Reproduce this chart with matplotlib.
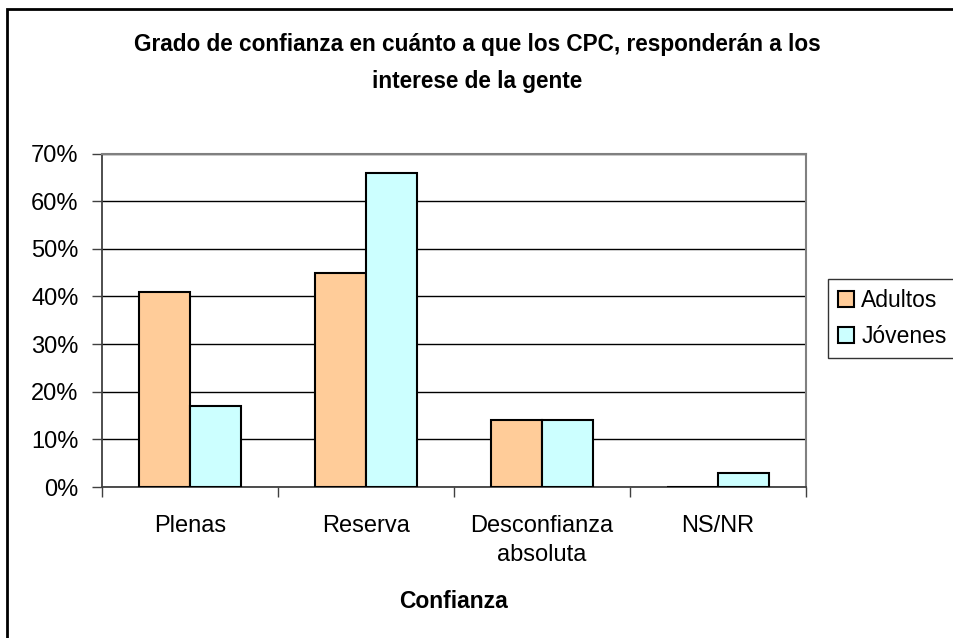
import numpy as np
import matplotlib.pyplot as plt
from matplotlib.patches import Rectangle

# datos
categorias = ["Plenas", "Reserva", "Desconfianza\nabsoluta", "NS/NR"]
adultos = [41, 45, 14, 0]
jovenes = [17, 66, 14, 3]
series = ["Adultos", "Jóvenes"]
yticks = [0, 10, 20, 30, 40, 50, 60, 70]

plt.rcParams["font.family"] = ["Liberation Sans", "DejaVu Sans"]

fig = plt.figure(figsize=(9.54, 6.38), dpi=100)
W, H = 954, 638
ax = fig.add_axes([102 / W, 1 - 487 / H, (806 - 102) / W, (487 - 153.5) / H])

x = np.arange(len(categorias))
w = 0.287
ax.bar(x - w / 2, adultos, w, color="#FFCC99", edgecolor="black", linewidth=1.5, label=series[0], zorder=3)
ax.bar(x + w / 2, jovenes, w, color="#CCFFFF", edgecolor="black", linewidth=1.5, label=series[1], zorder=3)

ax.set_xlim(-0.5, len(categorias) - 0.5)
ax.set_ylim(0, 70)
ax.set_yticks(yticks)
ax.set_yticklabels([f"{v}%" for v in yticks])
ax.yaxis.grid(True, color="black", linewidth=1)
ax.set_axisbelow(True)

# marcas en los limites de categorias
ax.set_xticks(np.arange(len(categorias) + 1) - 0.5)
ax.set_xticklabels([])
ax.set_xticks(x, minor=True)
ax.set_xticklabels(categorias, minor=True, fontsize=17, linespacing=1.45)
ax.tick_params(axis="x", which="minor", length=0, pad=20)
ax.tick_params(axis="x", which="major", length=7, width=1, color="#404040")
ax.tick_params(axis="y", length=7, width=1, labelsize=17, pad=10, color="#404040")

for s in ["left", "bottom"]:
    ax.spines[s].set_color("#404040")
    ax.spines[s].set_linewidth(1.3)
for s in ["top", "right"]:
    ax.spines[s].set_color("#808080")
    ax.spines[s].set_linewidth(1.5)

ax.set_xlabel("Confianza", fontsize=16.5, fontweight="bold", labelpad=17)

fig.text(0.5, 1 - 63 / H, "Grado de confianza en cuánto a que los CPC, responderán a los\ninterese de la gente",
         ha="center", va="center", fontsize=16.25, fontweight="bold", linespacing=1.75)

leg = fig.legend(loc="upper left", bbox_to_anchor=(828 / W, 1 - 279 / H), fontsize=16.5,
                 frameon=True, fancybox=False, edgecolor="black", handlelength=0.7, handleheight=0.7,
                 handletextpad=0.3, borderpad=0.45, labelspacing=0.55, borderaxespad=0)
leg.get_frame().set_linewidth(1)

# marco exterior del grafico
fig.patches.append(Rectangle((7 / W, -0.05), 1.1, 1 - 9 / H + 0.05, transform=fig.transFigure,
                             fill=False, edgecolor="black", linewidth=2))

fig.savefig("out.png", dpi=100)
